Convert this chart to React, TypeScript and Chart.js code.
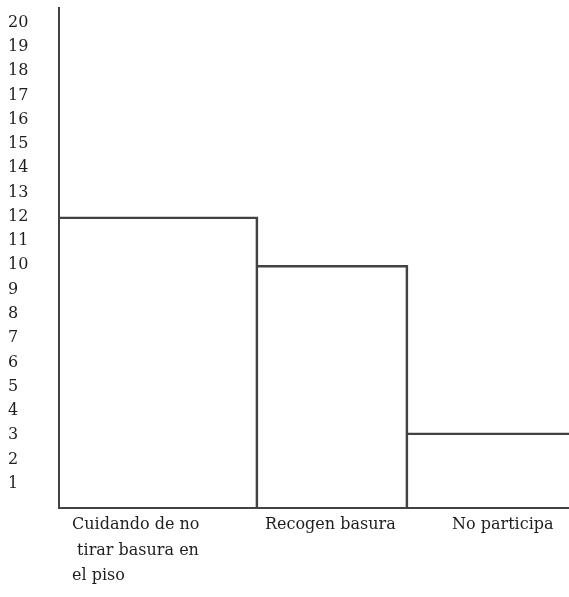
import React, { useEffect, useRef } from 'react';
import { Chart, registerables } from 'chart.js';

Chart.register(...registerables);

// ---- data ----
const categories: string[][] = [
  ['Cuidando de no', ' tirar basura en', 'el piso'],
  ['Recogen basura'],
  ['No participa'],
];
const values: number[] = [12, 10, 3.1];
const yTickValues: number[] = [1, 2, 3, 4, 5, 6, 7, 8, 9, 10, 11, 12, 13, 14, 15, 16, 17, 18, 19, 20];

// ---- layout / style ----
const barWidths = [199, 150, 161]; // px, chart area is 510px wide
const labelStarts = [13, 206, 393]; // x-scale units (= px from axis)
const LINE = '#424242';
const TEXT = '#1e1e1e';
const FONT = 'DejaVu Serif';

export default function App() {
  const ref = useRef<HTMLCanvasElement | null>(null);

  useEffect(() => {
    if (!ref.current) return;
    const total = barWidths.reduce((a, b) => a + b, 0);
    let cum = 0;
    const datasets = values.map((v, i) => {
      const center = cum + barWidths[i] / 2;
      cum += barWidths[i];
      const last = i === values.length - 1;
      return {
        label: categories[i].join(' '),
        data: [{ x: center, y: v }],
        backgroundColor: 'rgba(255,255,255,0)',
        borderColor: LINE,
        borderWidth: { top: 2, right: last ? 0 : 2, left: 0, bottom: 0 },
        borderSkipped: false as const,
        barThickness: barWidths[i],
        grouped: false,
      };
    });

    const chart = new Chart(ref.current, {
      type: 'bar',
      data: { datasets: datasets as any },
      options: {
        animation: false,
        responsive: true,
        maintainAspectRatio: false,
        layout: { padding: { left: 8, top: 8, right: 0, bottom: 0 } },
        plugins: { legend: { display: false }, tooltip: { enabled: false } },
        scales: {
          x: {
            type: 'linear',
            min: 0,
            max: total,
            offset: false,
            grid: { display: false, drawTicks: false, tickLength: 0 },
            border: { display: true, color: LINE, width: 2 },
            afterBuildTicks: (scale: any) => {
              scale.ticks = labelStarts.map((v) => ({ value: v }));
            },
            afterFit: (scale: any) => {
              scale.height = 89;
              scale.paddingLeft = 0;
              scale.paddingRight = 0;
            },
            ticks: {
              autoSkip: false,
              maxRotation: 0,
              minRotation: 0,
              align: 'start',
              padding: 4,
              color: TEXT,
              font: { family: FONT, size: 16, lineHeight: 1.6 },
              callback: (_v: any, i: number) => categories[i],
            },
          },
          y: {
            type: 'linear',
            min: 0,
            max: 20.6,
            grid: { display: false, drawTicks: false, tickLength: 0 },
            border: { display: true, color: LINE, width: 2 },
            afterBuildTicks: (scale: any) => {
              scale.ticks = yTickValues.map((v) => ({ value: v }));
            },
            afterFit: (scale: any) => {
              scale.width = 51;
              scale.paddingTop = 0;
              scale.paddingBottom = 0;
            },
            ticks: {
              crossAlign: 'far',
              color: TEXT,
              font: { family: FONT, size: 16 },
            },
          },
        },
      },
    });
    return () => chart.destroy();
  }, []);

  return (
    <div style={{ position: 'fixed', left: 0, top: 0, width: 569, height: 597, background: '#fff' }}>
      <canvas ref={ref} />
    </div>
  );
}
